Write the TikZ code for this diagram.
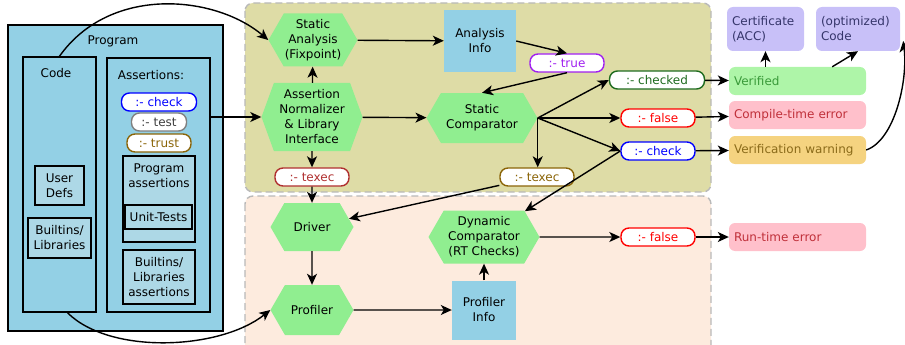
\documentclass[tikz,border=0pt]{standalone}
\usepackage{fontspec}
\setmainfont{DejaVu Sans}
\usetikzlibrary{shapes.symbols,arrows.meta}
\definecolor{progblue}{HTML}{93D0E5}
\definecolor{inblue}{HTML}{ADD8E6}
\definecolor{hexgreen}{HTML}{90EE90}
\definecolor{statcol}{HTML}{DEDCA6}
\definecolor{runcol}{HTML}{FDEBDE}
\definecolor{vercol}{HTML}{AEF5A8}
\definecolor{vertxt}{HTML}{3A9A3A}
\definecolor{errcol}{HTML}{FFC0CB}
\definecolor{errtxt}{HTML}{C0303A}
\definecolor{warncol}{HTML}{F5D380}
\definecolor{warntxt}{HTML}{8B6B1A}
\definecolor{certcol}{HTML}{C8C0F8}
\definecolor{certtxt}{HTML}{35356A}
\definecolor{trustcol}{HTML}{8B6508}
\definecolor{truecol}{HTML}{A020F0}
\definecolor{texcol}{HTML}{B03030}
\definecolor{chkdcol}{HTML}{1E6B1E}

\begin{document}
\begin{tikzpicture}
  [x=1pt,y=-1pt,
   every node/.style={font=\fontsize{12}{15}\selectfont, align=center, inner sep=1pt},
   box/.style={draw, line width=1.5pt, fill=progblue},
   inbox/.style={draw, line width=1.5pt, fill=inblue},
   hexa/.style={signal, signal to=east and west, signal pointer angle=120, fill=hexgreen},
   info/.style={fill=progblue},
   pill/.style={draw, fill=white, line width=1.4pt, rounded corners=8pt, minimum height=18},
   outcome/.style={rounded corners=6pt, minimum height=28, text width=127, align=left, inner xsep=5pt},
   conn/.style={-{Stealth[length=11pt,width=10pt,inset=3pt]}, line width=1.4pt}]
  \useasboundingbox (0,0) rectangle (905,345);
  % regions
  \draw[dash pattern=on 7pt off 4pt, draw=gray!55, line width=1.4pt, rounded corners=8pt, fill=statcol] (245,3) rectangle (711,192);
  \draw[dash pattern=on 7pt off 4pt, draw=gray!55, line width=1.4pt, rounded corners=8pt, fill=runcol] (245,196) rectangle (711,365);
  % program
  \node (prog) [box, minimum width=215, minimum height=306] at (115.5,178) {};
  \node (progtxt) at (113,41) {Program};
  \node (code) [box, minimum width=73, minimum height=255] at (59.5,184.5) {};
  \node (codetxt) at (56,73) {Code};
  \node (udefs) [inbox, minimum width=49, minimum height=39] at (59.5,185.5) {User\\Defs};
  \node (blib) [inbox, minimum width=63, minimum height=40] at (59.5,238) {Builtins/\\Libraries};
  \node (asb) [box, minimum width=103, minimum height=254] at (158.5,185) {};
  \node (asbtxt) at (151,75) {Assertions:};
  \node (chk1) [pill, draw=blue, text=blue, minimum width=75] at (159,102) {:- check};
  \node (tst) [pill, draw=gray, text=darkgray, minimum width=55] at (159,122) {:- test};
  \node (trst) [pill, draw=trustcol, text=trustcol, minimum width=64] at (159,143) {:- trust};
  \node (pas) [inbox, minimum width=72, minimum height=86] at (159,199) {};
  \node (pastxt) at (159,176) {Program\\assertions};
  \node (ut) [inbox, line width=2.2pt, minimum width=67, minimum height=24] at (158.5,217) {Unit-Tests};
  \node (blas) [inbox, minimum width=72, minimum height=54] at (159,277) {Builtins/\\Libraries\\assertions};
  % static part
  \node (sa) [hexa, minimum width=89, minimum height=53] at (313,40) {Static\\Analysis\\(Fixpoint)};
  \node (norm) [hexa, signal pointer angle=140, minimum width=101, minimum height=68] at (312,117) {Assertion\\Normalizer\\\& Library\\Interface};
  \node (scomp) [hexa, minimum width=111, minimum height=50] at (482,118) {Static\\Comparator};
  \node (ainfo) [info, minimum width=72, minimum height=62] at (480,41) {Analysis\\Info};
  \node (true) [pill, draw=truecol, text=truecol, minimum width=74] at (567,63) {:- true};
  \node (tx1) [pill, draw=texcol, text=texcol, minimum width=74] at (312,177) {:- texec};
  \node (tx2) [pill, draw=trustcol, text=trustcol, minimum width=74] at (537,177) {:- texec};
  \node (chkd) [pill, draw=chkdcol, text=chkdcol, minimum width=95] at (657,80) {:- checked};
  \node (fls1) [pill, draw=red, text=red, minimum width=74] at (658,118) {:- false};
  \node (chk2) [pill, draw=blue, text=blue, minimum width=74] at (658,151) {:- check};
  % run-time part
  \node (drv) [hexa, minimum width=83, minimum height=48] at (312,227) {Driver};
  \node (prof) [hexa, minimum width=83, minimum height=50] at (312,310) {Profiler};
  \node (dcomp) [hexa, minimum width=111, minimum height=53] at (484,237) {Dynamic\\Comparator\\(RT Checks)};
  \node (pinfo) [info, minimum width=64, minimum height=59] at (484,310) {Profiler\\Info};
  \node (fls2) [pill, draw=red, text=red, minimum width=74] at (658,237) {:- false};
  % outcomes
  \node (ver) [outcome, fill=vercol, text=vertxt] at (797.5,81) {Verified};
  \node (cterr) [outcome, fill=errcol, text=errtxt] at (797.5,115) {Compile-time error};
  \node (warn) [outcome, fill=warncol, text=warntxt] at (797.5,150) {Verification warning};
  \node (rterr) [outcome, fill=errcol, text=errtxt] at (797.5,237) {Run-time error};
  \node (cert) [outcome, fill=certcol, text=certtxt, text width=67, minimum height=44] at (765.5,29) {Certificate\\(ACC)};
  \node (optc) [outcome, fill=certcol, text=certtxt, text width=74, minimum height=44] at (858,29) {(optimized)\\Code};
  % connectors
  \foreach \from/\to in {norm/sa, norm/scomp, sa/ainfo, norm/tx1, tx1/drv, tx2/drv, drv/prof,
                         prof/pinfo, pinfo/dcomp, dcomp/fls2, fls2/rterr, chkd/ver, fls1/cterr, chk2/warn}
    \draw[conn] (\from) -- (\to);
  \foreach \to in {chkd, fls1, chk2}
    \draw[conn] (scomp.east) -- (\to.west);
  \draw[conn] (scomp.east) -- (scomp.east |- tx2.north);
  \draw[conn] (chk2.west) -- (dcomp);
  \draw[conn] (ainfo.east) -- (true.north);
  \draw[conn] (true.south) -- (scomp.north);
  \draw[conn] (asb.east |- norm.west) -- (norm.west);
  \draw[conn] (cert.south |- ver.north) -- (cert.south);
  \draw[conn] ([xshift=-34pt]ver.north east) -- (optc.south);
  \draw[conn] (code.north) .. controls (110,-15) and (215,-5) .. (sa.west);
  \draw[conn] ([xshift=8pt]code.south) .. controls (110,355) and (220,350) .. (prof.west);
  \draw[conn] (warn.east) .. controls (895,140) and (908,80) .. ([xshift=3pt,yshift=-12pt]optc.east);
\end{tikzpicture}
\end{document}
